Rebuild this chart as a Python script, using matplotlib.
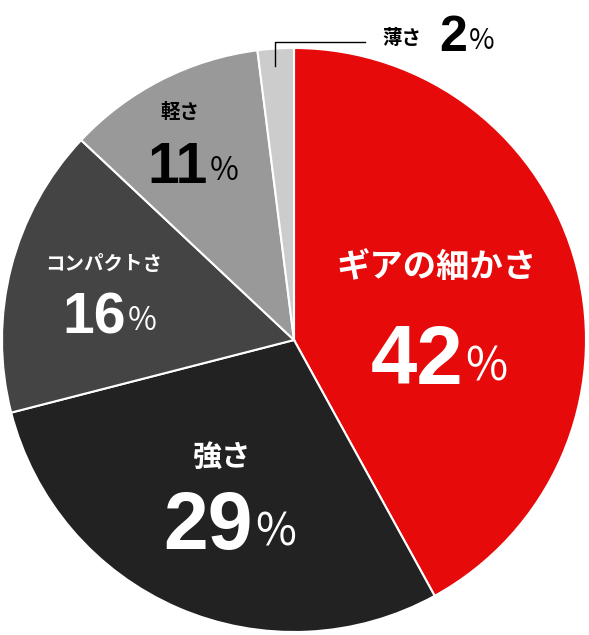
import matplotlib
matplotlib.use("Agg")
import matplotlib.pyplot as plt

labels = ["ギアの細かさ", "強さ", "コンパクトさ", "軽さ", "薄さ"]
values = [42, 29, 16, 11, 2]
colors = ["#e60a0a", "#222222", "#444444", "#999999", "#cccccc"]

F = ["Noto Sans CJK JP", "DejaVu Sans"]
N = ["Liberation Sans", "DejaVu Sans"]
fig = plt.figure(figsize=(5.89, 6.35), dpi=100)
ax = fig.add_axes([0, 0, 1, 1])
ax.pie(values, colors=colors, startangle=90, counterclock=False,
       center=(294, -340), radius=292,
       wedgeprops=dict(edgecolor="white", linewidth=1.5))
ax.set_xlim(0, 589); ax.set_ylim(-635, 0); ax.set_aspect("auto"); ax.axis("off")

def lab(name, val, xn, xb, yn, yv, fn, fv, col):
    if name:
        ax.text(xn, -yn, name, ha="center", va="center", fontsize=fn, color=col,
                family=F, weight="bold")
    ax.text(xb, -yv, str(val), ha="right", va="center", fontsize=fv,
            color=col, family=N, weight="bold")
    ax.text(xb + 2, -yv - fv*0.08, "%", ha="left", va="center",
            fontsize=fv*0.55, color=col, family=F, weight="normal")

lab(labels[0], values[0], 437, 463, 268, 362, 24, 60, "white")
lab(labels[1], values[1], 222, 253, 457, 528, 21, 58, "white")
lab(labels[2], values[2], 104, 126, 265, 318, 14, 41, "white")
lab(labels[3], values[3], 180, 208, 113, 168, 14, 41, "black")

ax.text(402, -38, labels[4], ha="center", va="center", fontsize=14,
        family=F, weight="bold", color="black")
ax.text(467, -38, str(values[4]), ha="right", va="center", fontsize=36,
        family=N, weight="bold", color="black")
ax.text(469, -41, "%", ha="left", va="center", fontsize=20,
        family=F, weight="normal", color="black")
ax.plot([275, 275, 365], [-66, -42, -42], color="black", lw=1)

fig.savefig("out.png", dpi=100)
